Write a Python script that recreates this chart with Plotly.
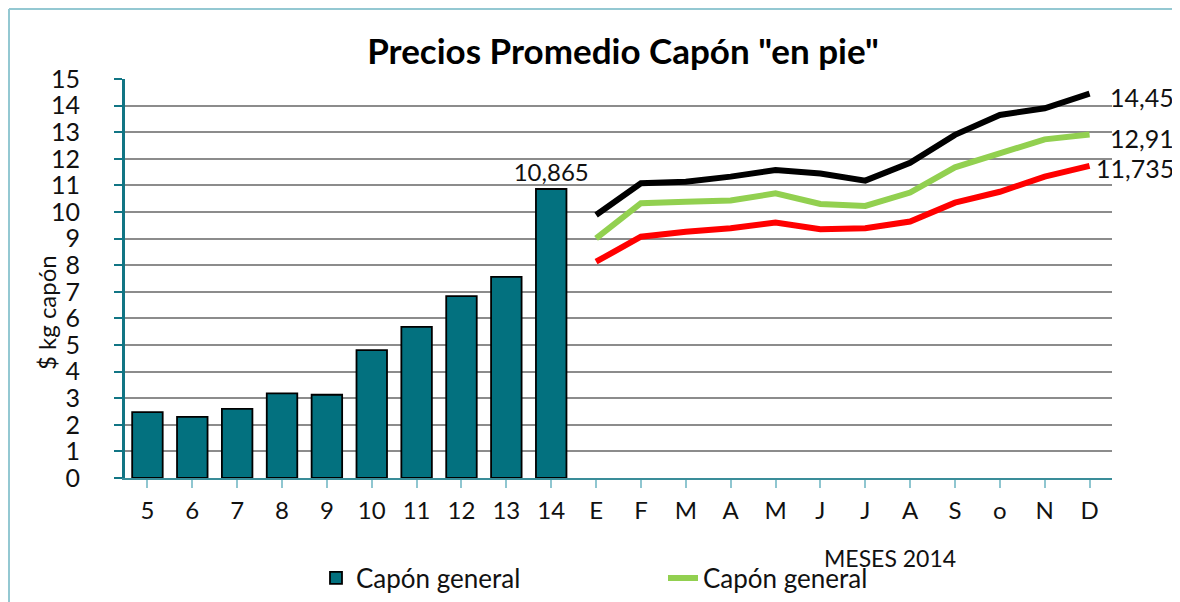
import plotly.graph_objects as go

years = ["5", "6", "7", "8", "9", "10", "11", "12", "13", "14"]
bar_values = [2.48, 2.3, 2.6, 3.18, 3.13, 4.81, 5.68, 6.84, 7.56, 10.865]
months = ["E", "F", "M", "A", "M", "J", "J", "A", "S", "o", "N", "D"]
max_values = [9.89, 11.08, 11.14, 11.33, 11.58, 11.45, 11.18, 11.85, 12.9, 13.65, 13.9, 14.45]
mid_values = [9.01, 10.33, 10.39, 10.43, 10.70, 10.3, 10.23, 10.73, 11.68, 12.23, 12.73, 12.91]
min_values = [8.13, 9.07, 9.26, 9.39, 9.60, 9.35, 9.39, 9.64, 10.35, 10.76, 11.33, 11.735]
y_ticks = list(range(0, 16))

FONT = "Lato"
TEAL = "#03717f"
TXT = "#111111"

def fmt(v):
    return str(v).replace(".", ",")

bar_x = list(range(len(years)))
line_x = [len(years) + i for i in range(len(months))]

# page is offset by the 8px body margin; work in figure coordinates
OFF = 8
W, H = 1180 - OFF, 602 - OFF
L, T = 125 - OFF, 79 - OFF
R = W - (1112 - OFF)
B = H - (478 - OFF)
pw, ph = W - L - R, H - T - B

def pxx(px):
    return (px - OFF - L) / pw

def pxy(py):
    return (H - B - (py - OFF)) / ph

fig = go.Figure()
fig.add_trace(go.Bar(
    x=bar_x, y=bar_values, name="Capón general",
    marker=dict(color=TEAL, line=dict(color="#000000", width=1.8)),
    width=0.68,
    text=[""] * (len(bar_values) - 1) + [fmt(bar_values[-1])],
    textposition="outside", constraintext="none",
    textfont=dict(family=FONT, size=24, color=TXT),
    cliponaxis=False,
))
fig.add_trace(go.Scatter(
    x=line_x, y=max_values, mode="lines", name="Máximo", showlegend=False,
    line=dict(color="#000000", width=6),
))
fig.add_trace(go.Scatter(
    x=line_x, y=mid_values, mode="lines", name="Capón general",
    line=dict(color="#92d050", width=6),
))
fig.add_trace(go.Scatter(
    x=line_x, y=min_values, mode="lines", name="Mínimo", showlegend=False,
    line=dict(color="#ff0000", width=6),
))

# end-of-line value labels, right aligned near the chart edge
for vals, dy in ((max_values, 3), (mid_values, 3), (min_values, 2)):
    fig.add_annotation(text=fmt(vals[-1]), x=pxx(1176), xref="paper",
                       y=vals[-1], yref="y", xanchor="right", yanchor="middle",
                       yshift=-dy, showarrow=False,
                       font=dict(family=FONT, size=25, color=TXT))

frame = "#94c8d2"
fig.add_shape(type="line", xref="paper", yref="paper",
              x0=pxx(OFF + 1), x1=pxx(1180), y0=pxy(OFF + 1), y1=pxy(OFF + 1),
              line=dict(color=frame, width=2))
fig.add_shape(type="line", xref="paper", yref="paper",
              x0=pxx(OFF + 1), x1=pxx(OFF + 1), y0=pxy(OFF + 1), y1=pxy(602),
              line=dict(color=frame, width=2))

fig.add_annotation(text="$ kg capón", xref="paper", yref="paper",
                   x=pxx(46), y=pxy(313), xanchor="center", yanchor="middle",
                   textangle=-90,
                   showarrow=False, font=dict(family=FONT, size=24, color=TXT))
fig.add_annotation(text="MESES 2014", xref="paper", yref="paper",
                   x=pxx(890), y=pxy(558), xanchor="center", yanchor="middle",
                   showarrow=False, font=dict(family=FONT, size=23, color=TXT))

fig.update_layout(
    width=W, height=H,
    margin=dict(l=L, r=R, t=T, b=B, autoexpand=False),
    paper_bgcolor="white", plot_bgcolor="white",
    separators=",.",
    title=dict(text="<b>Precios Promedio Capón \"en pie\"</b>",
               x=pxx(623), xref="paper", xanchor="center",
               y=1 - (52 - OFF) / H, yref="container", yanchor="middle",
               font=dict(family=FONT, size=35, color="#000000")),
    font=dict(family=FONT, size=26, color=TXT),
    legend=dict(orientation="h", x=pxx(316), y=pxy(578),
                xanchor="left", yanchor="middle", entrywidth=302,
                font=dict(family=FONT, size=26, color=TXT),
                bgcolor="rgba(0,0,0,0)"),
    showlegend=True,
)
fig.update_xaxes(
    automargin=False,
    range=[-0.5, len(years) + len(months) - 0.5],
    tickvals=bar_x + line_x, ticktext=years + months,
    showgrid=False, zeroline=False,
    showline=True, linecolor="#3a8d99", linewidth=1.5,
    ticks="outside", tickson="boundaries", ticklen=8, tickcolor="#8fc6d0", tickwidth=1.5,
    ticklabelstandoff=2,
    tickfont=dict(family=FONT, size=24, color=TXT),
)
fig.update_yaxes(
    automargin=False,
    range=[0, 15], tickvals=y_ticks,
    showgrid=True, gridcolor="#8c8c8c", gridwidth=1.5,
    zeroline=False,
    showline=True, linecolor="#117584", linewidth=3,
    ticks="outside", ticklen=8, tickcolor="#117584", tickwidth=2,
    ticklabelstandoff=29,
    tickfont=dict(family=FONT, size=25, color=TXT),
)

fig.write_html("out.html")
